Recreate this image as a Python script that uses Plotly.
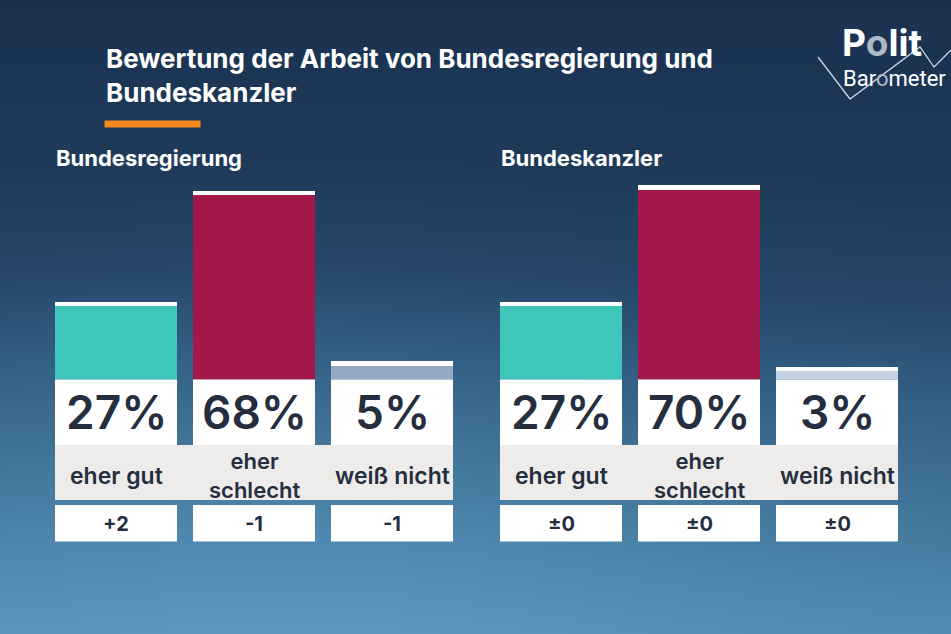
import numpy as np
import plotly.graph_objects as go

# ---------------- data ----------------
title_text = "Bewertung der Arbeit von Bundesregierung und<br>Bundeskanzler"
panel_titles = ["Bundesregierung", "Bundeskanzler"]
categories = ["eher gut", "eher schlecht", "weiß nicht"]
label_texts = ["eher gut", "eher<br>schlecht", "weiß nicht"]
values_regierung = [27, 68, 5]
values_kanzler = [27, 70, 3]
changes_regierung = ["+2", "-1", "-1"]
changes_kanzler = ["±0", "±0", "±0"]

# ---------------- styles ----------------
W, H = 951, 634
TEAL, RED = "#3DC6B9", "#A2184A"
GRAY_L, GRAY_R = "#93A8C1", "#C4D1E0"
TXT = "#252E3E"
BAND = "#EDECEB"
FONT = "Inter"

def px(x):
    return x / W

def py(y):
    return 1 - y / H

BASE = 379.5          # pixel row of bar base
TOP = 179.5           # pixel row of top of bar axis
PX_PER_UNIT = 2.71
CAP = 4.6 / PX_PER_UNIT
BW = 122 / 138

panels = [
    dict(vals=values_regierung, chg=changes_regierung, colors=[TEAL, RED, GRAY_L],
         xa="x2", ya="y2", title_x=55),
    dict(vals=values_kanzler, chg=changes_kanzler, colors=[TEAL, RED, GRAY_R],
         xa="x3", ya="y3", title_x=500),
]

fig = go.Figure()

# background gradient (decorative, drawn on the first subplot so it sits underneath)
gx = np.linspace(0, 1, 30)
gy = np.linspace(0, 1, 30)
GX, GY = np.meshgrid(gx, gy)
Z = GY + 0.10 * np.exp(-((GX - 0.35) ** 2) / 0.15) * GY - 0.06 * GX * GY
fig.add_trace(go.Heatmap(
    x=gx, y=gy, z=Z, xaxis="x", yaxis="y", showscale=False, zsmooth="best",
    hoverinfo="skip",
    colorscale=[[0.0, "#1B3150"], [0.25, "#1F3A59"], [0.42, "#26476A"],
                [0.55, "#325F84"], [0.7, "#427599"], [0.85, "#5089B0"],
                [1.0, "#5D97BC"]],
))

shapes = []
annotations = []

for p in panels:
    n = len(categories)
    fig.add_trace(go.Bar(
        x=categories, y=p["vals"], marker=dict(color=p["colors"], line_width=0),
        width=BW, xaxis=p["xa"], yaxis=p["ya"], hoverinfo="skip"))
    fig.add_trace(go.Bar(
        x=categories, y=[CAP] * n, marker=dict(color="white", line_width=0),
        width=BW, xaxis=p["xa"], yaxis=p["ya"], hoverinfo="skip"))

    # white percent boxes, grey label band, change boxes
    for i in range(n):
        shapes.append(dict(type="rect", xref=p["xa"], yref="paper",
                           x0=i - BW / 2, x1=i + BW / 2, y0=py(445), y1=py(BASE),
                           fillcolor="white", line_width=0, layer="above"))
        shapes.append(dict(type="rect", xref=p["xa"], yref="paper",
                           x0=i - BW / 2, x1=i + BW / 2, y0=py(541.5), y1=py(505),
                           fillcolor="white", line_width=0, layer="above"))
        annotations.append(dict(x=categories[i], xref=p["xa"], y=py(412), yref="paper",
                                text=f"{p['vals'][i]}%", showarrow=False,
                                font=dict(family=FONT, size=46, color=TXT, weight=600),
                                xanchor="center", yanchor="middle"))
        annotations.append(dict(x=categories[i], xref=p["xa"], y=py(524), yref="paper",
                                text=p["chg"][i], showarrow=False,
                                font=dict(family=FONT, size=20, color=TXT, weight=700),
                                xanchor="center", yanchor="middle"))
        two_line = "<br>" in label_texts[i]
        annotations.append(dict(x=categories[i], xref=p["xa"], y=py(475.5), yref="paper",
                                text=label_texts[i], showarrow=False, align="center",
                                font=dict(family=FONT, size=22 if two_line else 23,
                                          color=TXT, weight=600),
                                xanchor="center", yanchor="middle"))
    shapes.append(dict(type="rect", xref=p["xa"], yref="paper",
                       x0=-BW / 2, x1=n - 1 + BW / 2, y0=py(500), y1=py(445),
                       fillcolor=BAND, line_width=0, layer="above"))

# panel titles
for p, t in zip(panels, panel_titles):
    annotations.append(dict(x=px(p["title_x"] - 1), y=py(158), xref="paper", yref="paper",
                            text=t, showarrow=False, xanchor="left", yanchor="middle",
                            font=dict(family=FONT, size=22, color="white", weight=700)))

# main title
annotations.append(dict(x=px(104), y=py(75), xref="paper", yref="paper",
                        text=title_text, showarrow=False, xanchor="left", yanchor="middle",
                        align="left",
                        font=dict(family=FONT, size=26, color="white", weight=700)))
# orange underline
shapes.append(dict(type="rect", xref="paper", yref="paper",
                   x0=px(104.5), x1=px(200.5), y0=py(127.5), y1=py(120.5),
                   fillcolor="#F7871F", line_width=0))

# logo
shapes.append(dict(type="path", xref="paper", yref="paper",
                   path=(f"M {px(818)} {py(57)} L {px(850)} {py(99)} L {px(920)} {py(47)} "
                         f"L {px(934)} {py(67)} L {px(951)} {py(50)}"),
                   line=dict(color="#C9D6E3", width=1.3), layer="above"))
annotations.append(dict(x=px(840), y=py(67), xref="paper", yref="paper",
                        text="P<span style='color:#AEB9C6'>o</span>lit", showarrow=False,
                        xanchor="left", yanchor="bottom",
                        font=dict(family=FONT, size=37, color="white", weight=700)))
annotations.append(dict(x=px(841), y=py(64), xref="paper", yref="paper",
                        text="Bar<span style='color:#AEB9C6'>o</span>meter", showarrow=False,
                        xanchor="left", yanchor="top",
                        font=dict(family="Roboto", size=22, color="white", weight=400)))

ax_hidden = dict(visible=False, showgrid=False, zeroline=False, fixedrange=True)
fig.update_layout(
    width=W, height=H,
    margin=dict(l=0, r=0, t=0, b=0),
    paper_bgcolor="#2A4E6E", plot_bgcolor="rgba(0,0,0,0)",
    barmode="stack", showlegend=False,
    shapes=shapes, annotations=annotations,
    xaxis=dict(ax_hidden, domain=[0, 1], range=[0, 1]),
    yaxis=dict(ax_hidden, domain=[0, 1], range=[1, 0]),
    xaxis2=dict(ax_hidden, domain=[px(47), px(461)], range=[-0.5, 2.5], type="category"),
    yaxis2=dict(ax_hidden, domain=[py(BASE), py(TOP)],
                range=[0, (BASE - TOP) / PX_PER_UNIT]),
    xaxis3=dict(ax_hidden, domain=[px(492), px(906)], range=[-0.5, 2.5], type="category"),
    yaxis3=dict(ax_hidden, domain=[py(BASE), py(TOP)],
                range=[0, (BASE - TOP) / PX_PER_UNIT]),
)

fig.write_html("out.html")
